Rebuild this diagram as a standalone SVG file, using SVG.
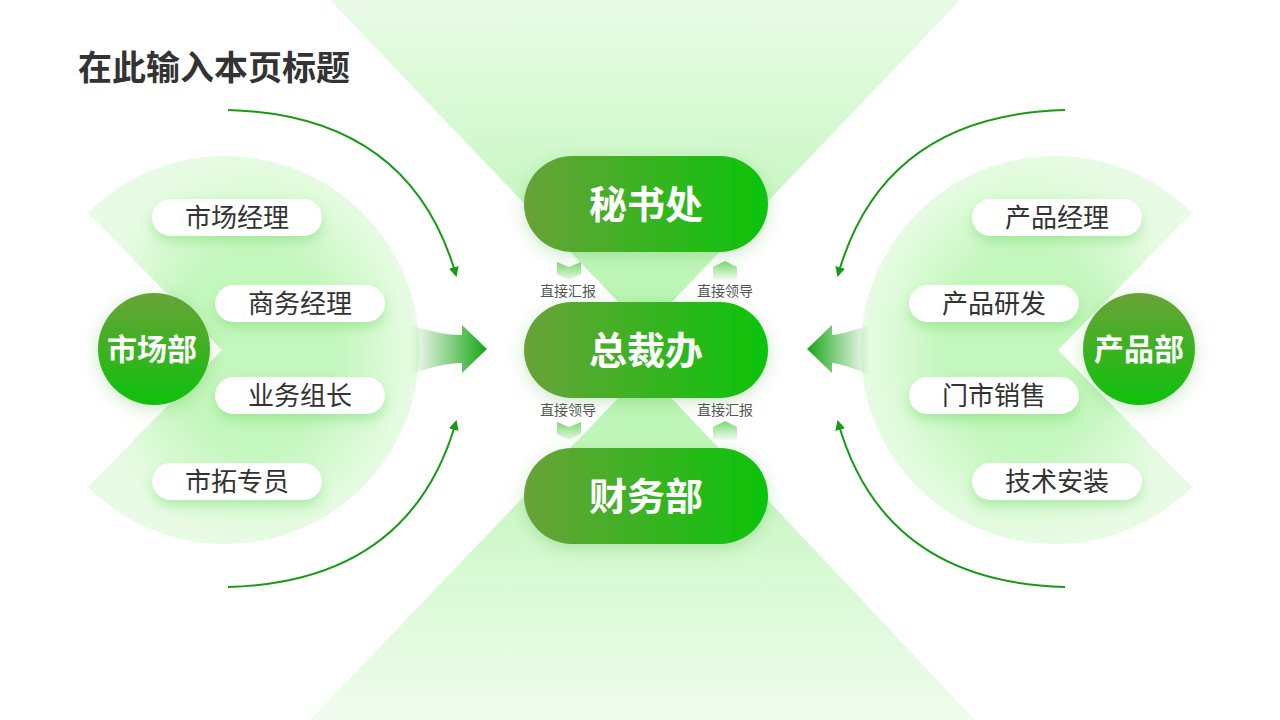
<svg xmlns="http://www.w3.org/2000/svg" width="1280" height="720" viewBox="0 0 1280 720">
<defs>
<linearGradient id="gTop" x1="0" y1="0" x2="0" y2="1"><stop offset="0" stop-color="#e9fbe6"/><stop offset="1" stop-color="#b5f5ae"/></linearGradient>
<linearGradient id="gBot" x1="0" y1="1" x2="0" y2="0"><stop offset="0" stop-color="#f0fcee"/><stop offset="1" stop-color="#b5f5ae"/></linearGradient>
<radialGradient id="gCirc" cx="0.5" cy="0.5" r="0.5"><stop offset="0.5" stop-color="#c4f7bd"/><stop offset="1" stop-color="#d8f9d2" stop-opacity="0.6"/></radialGradient>
<linearGradient id="gPill" x1="0" y1="0" x2="1" y2="0"><stop offset="0" stop-color="#68a238"/><stop offset="1" stop-color="#0bc40b"/></linearGradient>
<linearGradient id="gDot" x1="0" y1="0" x2="0" y2="1"><stop offset="0" stop-color="#69a337"/><stop offset="1" stop-color="#0ec10c"/></linearGradient>
<linearGradient id="gArrL" x1="0" y1="0" x2="1" y2="0"><stop offset="0" stop-color="#1ea51a" stop-opacity="0"/><stop offset="1" stop-color="#15a514"/></linearGradient>
<linearGradient id="gArrR" x1="1" y1="0" x2="0" y2="0"><stop offset="0" stop-color="#1ea51a" stop-opacity="0"/><stop offset="1" stop-color="#15a514"/></linearGradient>
<linearGradient id="gChev" x1="0" y1="0" x2="0" y2="1"><stop offset="0" stop-color="#7bd873"/><stop offset="1" stop-color="#e6fae3"/></linearGradient>
<linearGradient id="gChevU" x1="0" y1="1" x2="0" y2="0"><stop offset="0" stop-color="#f2fcf0"/><stop offset="1" stop-color="#7bd873"/></linearGradient>
<filter id="sh" x="-30%" y="-50%" width="160%" height="220%"><feDropShadow dx="0" dy="6" stdDeviation="6" flood-color="#5ccc50" flood-opacity="0.35"/></filter>
<filter id="sh2" x="-30%" y="-30%" width="160%" height="170%"><feDropShadow dx="0" dy="4" stdDeviation="8" flood-color="#3f9a30" flood-opacity="0.25"/></filter>
<marker id="ah" markerWidth="10" markerHeight="10" refX="8" refY="5" orient="auto" markerUnits="userSpaceOnUse"><path d="M0,0 L10,5 L0,10 Z" fill="#159b14"/></marker>
</defs>
<style>
.t{font-family:"Noto Sans CJK SC","Noto Sans",sans-serif}
.wp{fill:#fff}
.st{font-size:26px;fill:#333;text-anchor:middle}
.bt{font-size:38px;font-weight:bold;fill:#fff;text-anchor:middle}
.ct{font-size:30px;font-weight:bold;fill:#fff;text-anchor:middle}
.lb{font-size:14px;fill:#555;text-anchor:middle}
.cv{fill:none;stroke:#159b14;stroke-width:2}
</style>
<rect width="1280" height="720" fill="#fff"/>
<polygon points="330,0 960,0 645,330" fill="url(#gTop)"/>
<polygon points="310,720 975,720 645,370" fill="url(#gBot)"/>
<path d="M88,213 A194,194 0 1,1 88,487 L222,350 Z" fill="url(#gCirc)"/>
<path d="M1192,213 A194,194 0 1,0 1192,487 L1058,350 Z" fill="url(#gCirc)"/>
<g id="connectors">
<path class="cv" d="M228,110 Q410,115 456,275" marker-end="url(#ah)"/>
<path class="cv" d="M228,587 Q410,582 456,422" marker-end="url(#ah)"/>
<path class="cv" d="M1065,110 Q883,115 838,275" marker-end="url(#ah)"/>
<path class="cv" d="M1065,587 Q883,582 838,422" marker-end="url(#ah)"/>
<path d="M410,325 Q440,335 462,335 L462,325 L487,349 L462,373 L462,363 Q440,363 410,375 Z" fill="url(#gArrL)"/>
<path d="M870,325 Q840,335 832,335 L832,325 L807,349 L832,373 L832,363 Q840,363 870,375 Z" fill="url(#gArrR)"/>
<path d="M557,262 L569,267 L581,262 L581,274 L569,280 L557,274 Z" fill="url(#gChev)"/>
<path d="M713,267 L725,261 L737,267 L737,280 L713,280 Z" fill="url(#gChevU)"/>
<path d="M557,422 L569,427 L581,422 L581,434 L569,440 L557,434 Z" fill="url(#gChev)"/>
<path d="M713,427 L725,421 L737,427 L737,440 L713,440 Z" fill="url(#gChevU)"/>
<text class="t lb" x="568" y="296">直接汇报</text>
<text class="t lb" x="725" y="296">直接领导</text>
<text class="t lb" x="568" y="415">直接领导</text>
<text class="t lb" x="725" y="415">直接汇报</text>
</g>
<text class="t" x="78" y="80" font-size="34" font-weight="bold" fill="#333">在此输入本页标题</text>
<g id="n-mishu"><rect x="524" y="156" width="244" height="96" rx="48" fill="url(#gPill)" filter="url(#sh2)"/><text class="t bt" x="646" y="218">秘书处</text></g>
<g id="n-zongcai"><rect x="524" y="302" width="244" height="96" rx="48" fill="url(#gPill)" filter="url(#sh2)"/><text class="t bt" x="646" y="364">总裁办</text></g>
<g id="n-caiwu"><rect x="524" y="448" width="244" height="96" rx="48" fill="url(#gPill)" filter="url(#sh2)"/><text class="t bt" x="646" y="510">财务部</text></g>
<g id="n-shichang"><circle cx="154" cy="349" r="56" fill="url(#gDot)" filter="url(#sh2)"/><text class="t ct" x="152" y="360">市场部</text></g>
<g id="n-chanpin"><circle cx="1139" cy="349" r="56" fill="url(#gDot)" filter="url(#sh2)"/><text class="t ct" x="1139" y="360">产品部</text></g>
<g id="n-l1"><rect class="wp" x="152" y="199" width="170" height="37" rx="18.5" filter="url(#sh)"/><text class="t st" x="237" y="227">市场经理</text></g>
<g id="n-l2"><rect class="wp" x="215" y="285" width="170" height="37" rx="18.5" filter="url(#sh)"/><text class="t st" x="300" y="313">商务经理</text></g>
<g id="n-l3"><rect class="wp" x="215" y="377" width="170" height="37" rx="18.5" filter="url(#sh)"/><text class="t st" x="300" y="405">业务组长</text></g>
<g id="n-l4"><rect class="wp" x="152" y="463" width="170" height="37" rx="18.5" filter="url(#sh)"/><text class="t st" x="237" y="491">市拓专员</text></g>
<g id="n-r1"><rect class="wp" x="972" y="199" width="170" height="37" rx="18.5" filter="url(#sh)"/><text class="t st" x="1057" y="227">产品经理</text></g>
<g id="n-r2"><rect class="wp" x="909" y="285" width="170" height="37" rx="18.5" filter="url(#sh)"/><text class="t st" x="994" y="313">产品研发</text></g>
<g id="n-r3"><rect class="wp" x="909" y="377" width="170" height="37" rx="18.5" filter="url(#sh)"/><text class="t st" x="994" y="405">门市销售</text></g>
<g id="n-r4"><rect class="wp" x="972" y="463" width="170" height="37" rx="18.5" filter="url(#sh)"/><text class="t st" x="1057" y="491">技术安装</text></g>
</svg>
